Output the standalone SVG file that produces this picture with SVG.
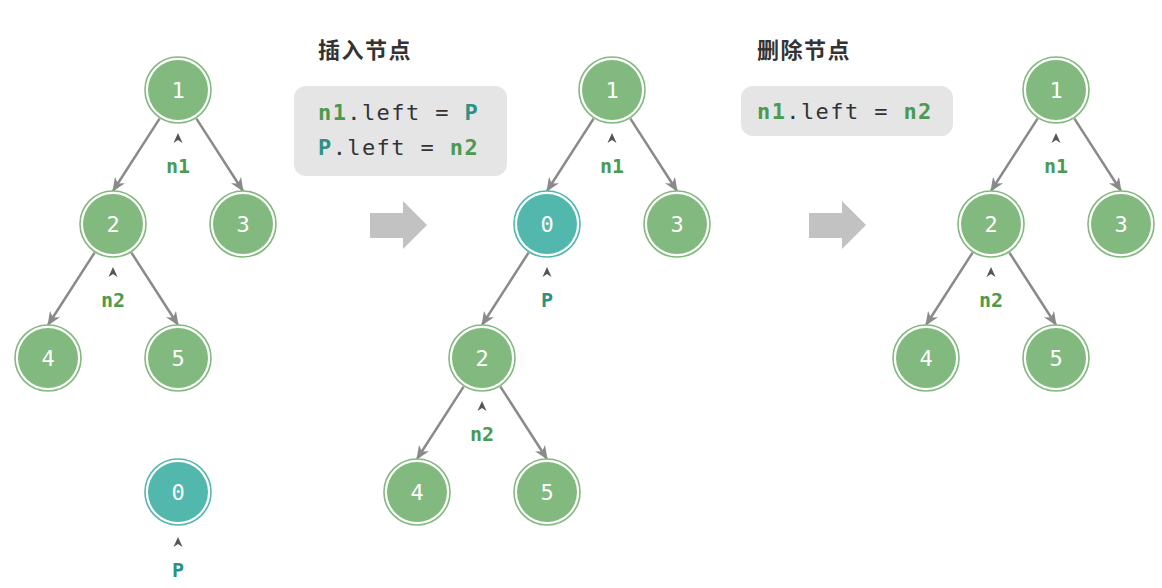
<svg xmlns="http://www.w3.org/2000/svg" width="1162" height="588" viewBox="0 0 1162 588">
<style>
.ring{fill:#ffffff;stroke:#82b97e;stroke-width:1.6}
.fill{fill:#82b97e}
.ringT{fill:#ffffff;stroke:#52b8ad;stroke-width:1.6}
.fillT{fill:#52b8ad}
.num{font-family:"DejaVu Sans Mono","Liberation Mono",monospace;font-size:22px;fill:#ffffff;text-anchor:middle}
.lab{font-family:"DejaVu Sans Mono","Liberation Mono",monospace;font-size:20px;font-weight:bold;text-anchor:middle}
.g{fill:#4c9a50}
.t{fill:#2f9186}
.caret{fill:#555555}
.edge{stroke:#8a8a8a;stroke-width:2.5;fill:none;marker-end:url(#ah)}
.title{font-family:"Noto Sans CJK SC","Noto Sans",sans-serif;font-size:22px;font-weight:bold;fill:#333333;letter-spacing:1.5px}
.code{font-family:"DejaVu Sans Mono","Liberation Mono",monospace;font-size:22px;fill:#333333;letter-spacing:1.4px}
.box{fill:#e5e5e5}
.blk{fill:#c2c2c2}
</style>
<defs>
<marker id="ah" markerUnits="userSpaceOnUse" markerWidth="14" markerHeight="12" viewBox="0 0 14 12" refX="13" refY="6" orient="auto">
<path d="M0,0 L14,6 L0,12 L4,6 z" fill="#8a8a8a"/>
</marker>
<path id="car" d="M-4.5,5 L0,-5 L4.5,5 L0,2 z"/>
</defs>

<g id="connectors">
<line class="edge" x1="159.6" y1="118.6" x2="113" y2="191"/>
<line class="edge" x1="196.4" y1="118.6" x2="243" y2="191"/>
<line class="edge" x1="94.6" y1="252.6" x2="48" y2="325"/>
<line class="edge" x1="131.4" y1="252.6" x2="178" y2="325"/>
<line class="edge" x1="593.6" y1="118.6" x2="547" y2="191"/>
<line class="edge" x1="630.4" y1="118.6" x2="677" y2="191"/>
<line class="edge" x1="528.6" y1="252.6" x2="482" y2="325"/>
<line class="edge" x1="463.6" y1="386.6" x2="417" y2="459"/>
<line class="edge" x1="500.4" y1="386.6" x2="547" y2="459"/>
<line class="edge" x1="1037.6" y1="118.6" x2="991" y2="191"/>
<line class="edge" x1="1074.4" y1="118.6" x2="1121" y2="191"/>
<line class="edge" x1="972.6" y1="252.6" x2="926" y2="325"/>
<line class="edge" x1="1009.4" y1="252.6" x2="1056" y2="325"/>
</g>

<g id="titles">
<text class="title" x="318" y="58">插入节点</text>
<text class="title" x="757" y="58">删除节点</text>
</g>

<g id="code-insert">
<rect class="box" x="294" y="86" width="213" height="90" rx="12"/>
<text class="code" x="318" y="120"><tspan class="g" font-weight="bold">n1</tspan>.left = <tspan class="t" font-weight="bold">P</tspan></text>
<text class="code" x="318" y="155"><tspan class="t" font-weight="bold">P</tspan>.left = <tspan class="g" font-weight="bold">n2</tspan></text>
</g>
<g id="code-delete">
<rect class="box" x="741" y="86" width="212" height="50" rx="12"/>
<text class="code" x="757" y="119"><tspan class="g" font-weight="bold">n1</tspan>.left = <tspan class="g" font-weight="bold">n2</tspan></text>
</g>

<g id="arrow-1"><path class="blk" d="M370,213 L403,213 L403,201 L427,225 L403,249 L403,238 L370,238 z"/></g>
<g id="arrow-2"><path class="blk" d="M809,213 L842,213 L842,201 L866,225 L842,249 L842,238 L809,238 z"/></g>

<!-- Tree 1 -->
<g id="t1-n1"><circle class="ring" cx="178" cy="90" r="33"/><circle class="fill" cx="178" cy="90" r="30"/><text class="num" x="178" y="98">1</text>
<use href="#car" class="caret" x="178" y="138"/><text class="lab g" x="178" y="173">n1</text></g>
<g id="t1-n2"><circle class="ring" cx="113" cy="224" r="33"/><circle class="fill" cx="113" cy="224" r="30"/><text class="num" x="113" y="232">2</text>
<use href="#car" class="caret" x="113" y="272"/><text class="lab g" x="113" y="307">n2</text></g>
<g id="t1-n3"><circle class="ring" cx="243" cy="224" r="33"/><circle class="fill" cx="243" cy="224" r="30"/><text class="num" x="243" y="232">3</text></g>
<g id="t1-n4"><circle class="ring" cx="48" cy="358" r="33"/><circle class="fill" cx="48" cy="358" r="30"/><text class="num" x="48" y="366">4</text></g>
<g id="t1-n5"><circle class="ring" cx="178" cy="358" r="33"/><circle class="fill" cx="178" cy="358" r="30"/><text class="num" x="178" y="366">5</text></g>
<g id="t1-n0"><circle class="ringT" cx="178" cy="492" r="33"/><circle class="fillT" cx="178" cy="492" r="30"/><text class="num" x="178" y="500">0</text>
<use href="#car" class="caret" x="178" y="542"/><text class="lab t" x="178" y="577">P</text></g>

<!-- Tree 2 -->
<g id="t2-n1"><circle class="ring" cx="612" cy="90" r="33"/><circle class="fill" cx="612" cy="90" r="30"/><text class="num" x="612" y="98">1</text>
<use href="#car" class="caret" x="612" y="138"/><text class="lab g" x="612" y="173">n1</text></g>
<g id="t2-n0"><circle class="ringT" cx="547" cy="224" r="33"/><circle class="fillT" cx="547" cy="224" r="30"/><text class="num" x="547" y="232">0</text>
<use href="#car" class="caret" x="547" y="272"/><text class="lab t" x="547" y="307">P</text></g>
<g id="t2-n3"><circle class="ring" cx="677" cy="224" r="33"/><circle class="fill" cx="677" cy="224" r="30"/><text class="num" x="677" y="232">3</text></g>
<g id="t2-n2"><circle class="ring" cx="482" cy="358" r="33"/><circle class="fill" cx="482" cy="358" r="30"/><text class="num" x="482" y="366">2</text>
<use href="#car" class="caret" x="482" y="406"/><text class="lab g" x="482" y="441">n2</text></g>
<g id="t2-n4"><circle class="ring" cx="417" cy="492" r="33"/><circle class="fill" cx="417" cy="492" r="30"/><text class="num" x="417" y="500">4</text></g>
<g id="t2-n5"><circle class="ring" cx="547" cy="492" r="33"/><circle class="fill" cx="547" cy="492" r="30"/><text class="num" x="547" y="500">5</text></g>

<!-- Tree 3 -->
<g id="t3-n1"><circle class="ring" cx="1056" cy="90" r="33"/><circle class="fill" cx="1056" cy="90" r="30"/><text class="num" x="1056" y="98">1</text>
<use href="#car" class="caret" x="1056" y="138"/><text class="lab g" x="1056" y="173">n1</text></g>
<g id="t3-n2"><circle class="ring" cx="991" cy="224" r="33"/><circle class="fill" cx="991" cy="224" r="30"/><text class="num" x="991" y="232">2</text>
<use href="#car" class="caret" x="991" y="272"/><text class="lab g" x="991" y="307">n2</text></g>
<g id="t3-n3"><circle class="ring" cx="1121" cy="224" r="33"/><circle class="fill" cx="1121" cy="224" r="30"/><text class="num" x="1121" y="232">3</text></g>
<g id="t3-n4"><circle class="ring" cx="926" cy="358" r="33"/><circle class="fill" cx="926" cy="358" r="30"/><text class="num" x="926" y="366">4</text></g>
<g id="t3-n5"><circle class="ring" cx="1056" cy="358" r="33"/><circle class="fill" cx="1056" cy="358" r="30"/><text class="num" x="1056" y="366">5</text></g>
</svg>
